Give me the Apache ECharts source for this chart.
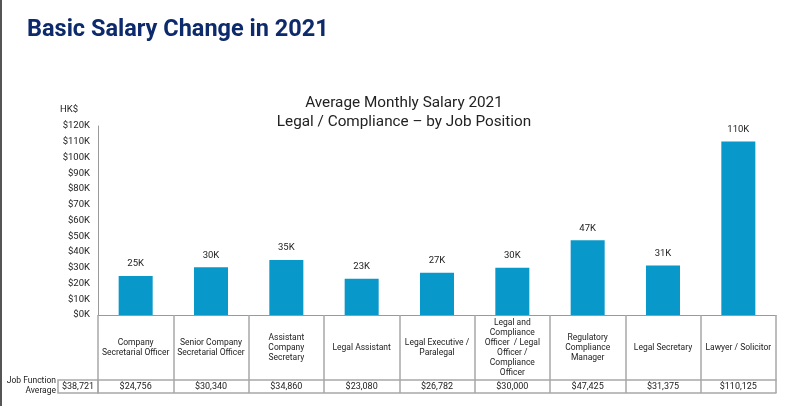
<!DOCTYPE html>
<html><head><meta charset="utf-8">
<script src="https://cdn.jsdelivr.net/npm/echarts@6/dist/echarts.min.js"></script>
<style>html,body{margin:0;padding:0;background:#fff}#c{width:790px;height:406px}</style>
</head><body><div id="c"></div>
<script>
const pageTitle = 'Basic Salary Change in 2021';
const chartTitle = 'Average Monthly Salary 2021\nLegal / Compliance \u2013 by Job Position';
const unitLabel = 'HK$';
const categories = [
  'Company\nSecretarial Officer',
  'Senior Company\nSecretarial Officer',
  'Assistant\nCompany\nSecretary',
  'Legal Assistant',
  'Legal Executive /\nParalegal',
  'Legal and\nCompliance\nOfficer  / Legal\nOfficer /\nCompliance\nOfficer',
  'Regulatory\nCompliance\nManager',
  'Legal Secretary',
  'Lawyer / Solicitor'
];
const salaries = [24756, 30340, 34860, 23080, 26782, 30000, 47425, 31375, 110125];
const jobFunctionLabel = 'Job Function\nAverage';
const jobFunctionAverage = 38721;
const yTicks = {min: 0, max: 120000, interval: 10000};

const fmtMoney = v => '$' + v.toLocaleString('en-US');
const FONT = 'Roboto';
const chart = echarts.init(document.getElementById('c'));
chart.setOption({
  animation: false,
  textStyle: {fontFamily: FONT},
  title: [
    {text: pageTitle, left: 27, top: 18, padding: 0, textStyle: {fontFamily: FONT, fontSize: 23.5, fontWeight: 'bold', color: '#0d2a6c'}},
    {text: chartTitle, left: 404, top: 94, padding: 0, textAlign: 'center', textStyle: {fontFamily: FONT, fontSize: 15.3, fontWeight: 'normal', color: '#222', lineHeight: 19}},
    {text: unitLabel, left: 60, top: 105, padding: 0, textStyle: {fontFamily: FONT, fontSize: 9.5, fontWeight: 'normal', color: '#222'}}
  ],
  grid: {left: 98, right: 14, top: 126, bottom: 91},
  xAxis: [
    {type: 'category', data: categories, position: 'bottom',
     axisLine: {show: true, lineStyle: {color: '#9a9a9a', width: 1}},
     axisTick: {show: true, length: 78, lineStyle: {color: '#a8a8a8', width: 1.5}},
     axisLabel: {interval: 0, margin: 33, verticalAlign: 'middle', fontSize: 8.5, lineHeight: 10, color: '#222', fontFamily: FONT}},
    {type: 'category', data: salaries.map(fmtMoney), position: 'bottom', offset: 65,
     axisLine: {show: true, lineStyle: {color: '#a8a8a8', width: 1.5}},
     axisTick: {show: false},
     axisLabel: {interval: 0, margin: 7, verticalAlign: 'middle', fontSize: 9, color: '#222', fontFamily: FONT}},
    {type: 'category', data: categories, position: 'bottom', offset: 78,
     axisLine: {show: true, lineStyle: {color: '#a8a8a8', width: 1.5}},
     axisTick: {show: false}, axisLabel: {show: false}}
  ],
  yAxis: {type: 'value', min: yTicks.min, max: yTicks.max, interval: yTicks.interval,
    axisLine: {show: true, lineStyle: {color: '#9a9a9a'}},
    axisTick: {show: false}, splitLine: {show: false},
    axisLabel: {margin: 8, fontSize: 9.5, color: '#222', formatter: v => '$' + (v / 1000) + 'K'}},
  series: [{
    type: 'bar', data: salaries, xAxisIndex: 0, barWidth: 34,
    itemStyle: {color: '#0898c9'},
    label: {show: true, position: 'top', distance: 7, fontSize: 9.5, color: '#222',
      formatter: p => Math.round(p.value / 1000) + 'K'}
  }],
  graphic: [
    {type: 'rect', shape: {x: 0, y: 0, width: 2, height: 406}, style: {fill: '#555'}},
    {type: 'rect', shape: {x: 58, y: 380, width: 40, height: 13}, style: {fill: 'none', stroke: '#a8a8a8', lineWidth: 1.5}},
    {type: 'text', x: 78, y: 387, style: {text: fmtMoney(jobFunctionAverage), fontFamily: FONT, fontSize: 9, fill: '#222', align: 'center', verticalAlign: 'middle'}},
    {type: 'text', x: 56, y: 386, style: {text: jobFunctionLabel, fontFamily: FONT, fontSize: 8.5, lineHeight: 10, fill: '#222', align: 'right', verticalAlign: 'middle'}}
  ]
});
</script></body></html>
